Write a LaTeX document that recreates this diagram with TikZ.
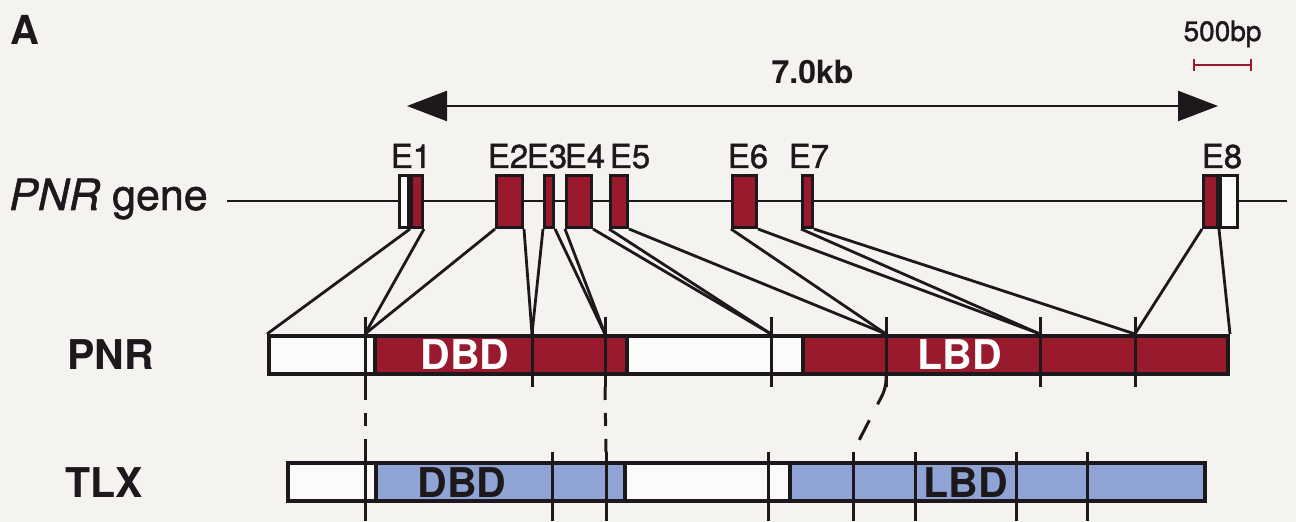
\documentclass[tikz,border=0pt]{standalone}
\usepackage{fontspec}
\setmainfont{TeX Gyre Heros}
\newfontfamily\medfont{TeX Gyre Heros}[FakeBold=1.2]
\usetikzlibrary{arrows.meta}
\definecolor{pnrred}{RGB}{152,26,44}
\definecolor{tlxblue}{RGB}{143,163,212}
\definecolor{paper}{RGB}{244,243,239}
\definecolor{boxwhite}{RGB}{251,251,249}
\definecolor{ink}{RGB}{28,24,28}

\begin{document}
\begin{tikzpicture}[x=0.5pt, y=-0.5pt, every node/.style={inner sep=0pt, text=ink}]
\tikzset{
  exon/.style={draw=ink, line width=1.5pt, fill=pnrred, minimum height=26pt},
  bar/.style={draw=ink, line width=2pt, minimum height=19pt},
  divider/.style={draw=ink, line width=2.4pt},
  tick/.style={draw=ink, line width=1.5pt},
  link/.style={draw=ink, line width=1.4pt},
  gap/.style={tick, dash pattern=on 6.5pt off 6.5pt},
  elab/.style={font=\fontsize{16.5}{18}\medfont, anchor=base},
  big/.style={font=\fontsize{20.5}{22}\selectfont\bfseries, anchor=base},
}
\useasboundingbox (0,0) rectangle (1296,522);
\fill[paper] (0,0) rectangle (1296,522);

% titles
\node[font=\fontsize{20}{22}\selectfont\bfseries, anchor=base west] (panel) at (10,45) {A};
\node[font=\fontsize{21.5}{23}\medfont, anchor=base west] (gene) at (9,210) {\textit{PNR} gene};

% length arrow and scale bar
\coordinate (kbl) at (407,106);
\coordinate (kbr) at (1218,106);
\draw[ink, line width=1.2pt, {Triangle[length=20pt,width=15pt]}-{Triangle[length=20pt,width=15pt]}] (kbl) -- (kbr)
  node[midway, anchor=base, yshift=11pt, font=\fontsize{16}{18}\selectfont\bfseries] (kb) {7.0kb};
\coordinate (sbl) at (1193,65);
\coordinate (sbr) at (1252,65);
\draw[pnrred, line width=0.9pt, {Bar[width=6pt]}-{Bar[width=6pt]}] (sbl) -- (sbr)
  node[midway, anchor=base, yshift=12pt, font=\fontsize{14}{16}\medfont, text=ink] (bp) {500bp};

% gene line and exons
\coordinate (gl) at (227,201);
\coordinate (gr) at (1287,201);
\draw[ink, line width=1.3pt] (gl) -- (gr);
\node[exon, fill=boxwhite, minimum width=4.5pt] (e1u) at (404,201.5) {};
\node[exon, fill=boxwhite, minimum width=8.5pt] (e8u) at (1229,201.5) {};
\foreach \n/\a/\b in {1/410/424, 2/495/524, 3/543/555, 4/565/593, 5/609/629, 6/731/758, 7/801/814, 8/1202/1219}
  \node[exon, minimum width={(\b-\a-3)*0.5pt}] (e\n) at ({(\a+\b)/2},201.5) {};
\foreach \n/\x in {1/411, 2/508, 3/547, 4/585, 5/630, 6/748, 7/809, 8/1222}
  \node[elab] (el\n) at (\x,168) {E\n};

% PNR protein
\foreach \a/\b/\c in {267/375/boxwhite, 375/627/pnrred, 627/803/boxwhite, 803/1230/pnrred}
  \fill[\c] (\a,334) rectangle (\b,376);
\node[bar, minimum width=479.5pt] (pnrbar) at (748.5,355) {};
\foreach \x in {375,627,803}
  \draw[divider] (\x,335) -- (\x,375);
\foreach \x in {365,532,605,771,886,1040,1135}
  \draw[tick] (\x,317) -- (\x,387);
\node[big, text=white] (pdbd) at (465,370) {DBD};
\node[big, text=white] (plbd) at (960,370) {LBD};
\node[big, anchor=base west] (pnr) at (67,370) {PNR};

% exon borders on PNR
\foreach \x [count=\i from 0] in {267,365,532,605,771,886,1040,1135,1230}
  \coordinate (b\i) at (\x,334);
\foreach \i [evaluate=\i as \j using int(\i-1)] in {1,...,8} {
  \draw[link] (e\i.south west) -- (b\j);
  \draw[link] (e\i.south east) -- (b\i);
}

% TLX protein
\foreach \a/\b/\c in {286/376/boxwhite, 376/625/tlxblue, 625/790/boxwhite, 790/1207/tlxblue}
  \fill[\c] (\a,461) rectangle (\b,503);
\node[bar, minimum width=458.5pt] (tlxbar) at (746.5,482) {};
\foreach \x in {376,625,790}
  \draw[divider] (\x,462) -- (\x,502);
\foreach \x in {365,552,606,768,853,915,1016,1087}
  \draw[tick] (\x,452) -- (\x,521);
\node[big] (tdbd) at (462,498) {DBD};
\node[big] (tlbd) at (966,498) {LBD};
\node[big, anchor=base west] (tlx) at (65,498) {TLX};

% matching borders
\coordinate (pa) at (365,387);  \coordinate (ta) at (365,452);
\coordinate (pb) at (605,387);  \coordinate (tb) at (606,452);
\coordinate (pc) at (886,376);  \coordinate (tc) at (853,452);
\draw[gap] (pa) -- (ta);
\draw[gap] (pb) -- (tb);
\draw[tick, rounded corners=4pt, dash pattern=on 15pt off 9pt on 11pt off 9pt] (pc) -- (886,388) -- (tc);
\end{tikzpicture}
\end{document}
